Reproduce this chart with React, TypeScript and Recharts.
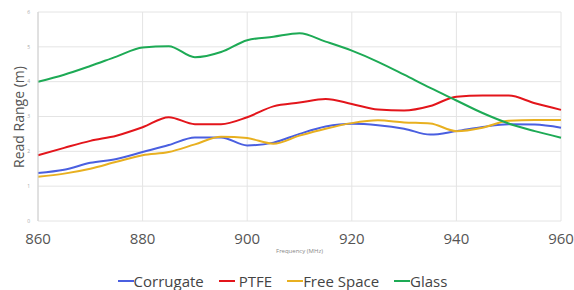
import React from 'react'
import { LineChart, Line, XAxis, YAxis, CartesianGrid, Legend } from 'recharts'

const frequency = [860, 865, 870, 875, 880, 885, 890, 895, 900, 905, 910, 915, 920, 925, 930, 935, 940, 945, 950, 955, 960]
const corrugate = [1.38, 1.47, 1.67, 1.78, 1.98, 2.18, 2.4, 2.4, 2.17, 2.25, 2.5, 2.71, 2.79, 2.75, 2.65, 2.48, 2.58, 2.7, 2.78, 2.77, 2.68]
const ptfe = [1.89, 2.1, 2.3, 2.45, 2.69, 2.98, 2.78, 2.78, 2.98, 3.29, 3.4, 3.5, 3.36, 3.2, 3.17, 3.3, 3.57, 3.6, 3.6, 3.38, 3.19]
const freeSpace = [1.27, 1.36, 1.5, 1.7, 1.89, 1.98, 2.2, 2.42, 2.38, 2.22, 2.45, 2.65, 2.81, 2.89, 2.83, 2.8, 2.58, 2.68, 2.88, 2.9, 2.9]
const glass = [4.0, 4.2, 4.45, 4.72, 4.98, 5.02, 4.7, 4.85, 5.19, 5.29, 5.39, 5.15, 4.89, 4.57, 4.2, 3.82, 3.46, 3.1, 2.8, 2.58, 2.39]

const xTicks = [860, 880, 900, 920, 940, 960]
const yTicks = [0, 1, 2, 3, 4, 5, 6]

const series = [
  { key: 'corrugate', name: 'Corrugate', color: '#4a5fe0' },
  { key: 'ptfe', name: 'PTFE', color: '#e3151b' },
  { key: 'freeSpace', name: 'Free Space', color: '#e8b020' },
  { key: 'glass', name: 'Glass', color: '#1daa55' },
]

const data = frequency.map((f, i) => ({
  f,
  corrugate: corrugate[i],
  ptfe: ptfe[i],
  freeSpace: freeSpace[i],
  glass: glass[i],
}))

const font = '"Open Sans", sans-serif'

const LegendContent = () => (
  <div style={{ display: 'flex', justifyContent: 'center', gap: 15, fontSize: 15, color: '#444', fontFamily: font, paddingTop: 5, paddingLeft: 4 }}>
    {series.map((s) => (
      <span key={s.key} style={{ display: 'flex', alignItems: 'center' }}>
        <span style={{ display: 'inline-block', width: 16, height: 2, background: s.color, marginRight: s.key === 'ptfe' ? 4 : 0 }} />
        {s.name}
      </span>
    ))}
  </div>
)

export default function App() {
  return (
    <div style={{ position: 'absolute', left: 0, top: 0, fontFamily: font }}>
      <LineChart width={574} height={290} data={data} margin={{ top: 12, right: 13, left: 0, bottom: 0 }}>
        <CartesianGrid stroke="#e4e4e4" />
        <XAxis
          dataKey="f"
          type="number"
          domain={[860, 960]}
          ticks={xTicks}
          height={45}
          axisLine={false}
          tickLine={false}
          tick={{ fill: '#555', fontSize: 15, fontFamily: font, dy: 4 }}
          label={{ value: 'Frequency (MHz)', position: 'insideBottom', offset: 13, fill: '#888', fontSize: 6, fontFamily: font }}
        />
        <YAxis
          domain={[0, 6]}
          ticks={yTicks}
          width={38}
          axisLine={{ stroke: '#d0d0d0' }}
          tickLine={false}
          tick={{ fill: '#aaa', fontSize: 5, fontFamily: font }}
          label={{
            content: () => (
              <text x={18} y={117} transform="rotate(-90 18 117)" textAnchor="middle" dominantBaseline="central" fill="#555" fontSize={14} fontFamily={font}>
                Read Range (m)
              </text>
            ),
          }}
        />
        <Legend verticalAlign="bottom" content={<LegendContent />} wrapperStyle={{ height: 24 }} />
        {series.map((s) => (
          <Line key={s.key} type="monotone" dataKey={s.key} name={s.name} stroke={s.color} strokeWidth={2} dot={false} isAnimationActive={false} />
        ))}
      </LineChart>
    </div>
  )
}
